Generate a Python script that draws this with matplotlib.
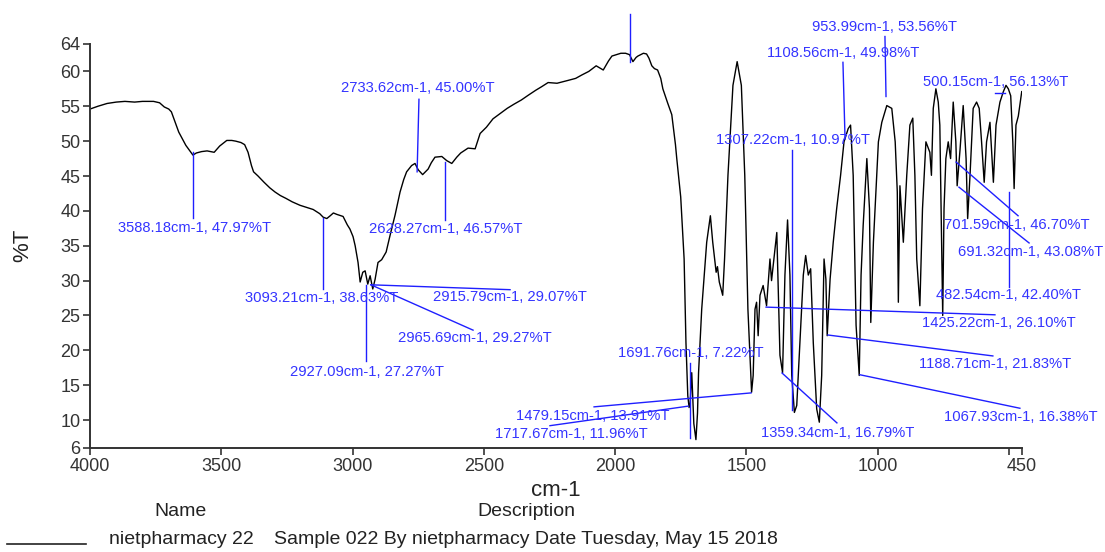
import matplotlib
matplotlib.use("Agg")
import matplotlib.pyplot as plt
from matplotlib.lines import Line2D

# ---------------- data ----------------
wavenumber = [
    4000, 3970, 3935, 3900, 3867, 3830, 3800, 3758, 3735, 3717, 3700, 3690, 3662, 3635,
    3608, 3595, 3575, 3554, 3527, 3506, 3479, 3460, 3445, 3425, 3411, 3398, 3385, 3377,
    3360, 3337, 3315, 3295, 3275, 3254, 3230, 3200, 3175, 3150, 3125, 3112, 3098, 3085,
    3073, 3060, 3036, 3020, 3010, 2998, 2990, 2979, 2971, 2961, 2952, 2942, 2933, 2923,
    2914, 2903, 2889, 2872, 2857, 2838, 2819, 2805, 2794, 2775, 2762, 2750, 2733, 2712,
    2700, 2686, 2660, 2641, 2622, 2603, 2588, 2560, 2533, 2514, 2490, 2465, 2440, 2411,
    2385, 2357, 2330, 2302, 2280, 2255, 2221, 2200, 2180, 2150, 2126, 2100, 2072, 2045,
    2025, 2012, 1995, 1978, 1960, 1945, 1932, 1920, 1913, 1892, 1880, 1871, 1860, 1850,
    1838, 1826, 1818, 1800, 1784, 1770, 1765, 1750, 1744, 1737, 1730, 1723, 1718, 1714,
    1708, 1700, 1692, 1686, 1682, 1670, 1651, 1637, 1628, 1615, 1610, 1605, 1603, 1590,
    1583, 1570, 1551, 1535, 1519, 1506, 1494, 1480, 1474, 1467, 1461, 1455, 1448, 1436,
    1423, 1410, 1404, 1384, 1372, 1362, 1353, 1343, 1334, 1327, 1317, 1308, 1296, 1283,
    1274, 1264, 1255, 1245, 1232, 1222, 1213, 1204, 1197, 1192, 1181, 1169, 1156, 1141,
    1128, 1112, 1103, 1093, 1082, 1070, 1063, 1055, 1041, 1031, 1026, 1016, 997, 984,
    965, 946, 933, 925, 921, 915, 902, 889, 877, 866, 858, 851, 839, 829,
    816, 801, 795, 788, 778, 769, 763, 752, 747, 740, 731, 722, 712, 702,
    697, 686, 674, 663, 657, 648, 636, 623, 613, 604, 594, 585, 572, 559,
    549, 534, 521, 511, 502, 493, 485, 480, 473, 464, 451,
]
transmittance = [
    54.6, 55.0, 55.4, 55.6, 55.7, 55.6, 55.7, 55.7, 55.5, 54.9, 54.6, 54.2, 51.3, 49.4,
    48.0, 48.3, 48.5, 48.6, 48.4, 49.3, 50.1, 50.1, 50.0, 49.8, 49.5, 48.4, 46.5, 45.6,
    45.0, 44.1, 43.3, 42.7, 42.2, 41.8, 41.3, 40.8, 40.5, 40.2, 39.6, 39.1, 38.9, 39.3,
    39.7, 39.5, 39.2, 38.0, 37.4, 36.3, 35.0, 32.6, 29.8, 31.2, 31.4, 29.5, 30.7, 28.8,
    30.2, 32.6, 33.0, 34.1, 36.5, 39.4, 42.7, 44.5, 45.6, 46.5, 46.8, 45.9, 45.2, 46.0,
    46.9, 47.7, 47.8, 47.2, 46.8, 47.7, 48.3, 49.0, 48.9, 51.1, 52.0, 53.2, 53.9, 54.7,
    55.3, 55.9, 56.6, 57.3, 57.8, 58.4, 58.3, 58.5, 58.7, 59.0, 59.5, 60.0, 60.8, 60.2,
    61.5, 62.2, 62.4, 62.6, 62.6, 62.4, 61.4, 62.0, 62.2, 62.6, 62.5, 61.9, 60.8, 60.4,
    60.2, 59.0, 57.5, 55.5, 53.8, 49.5, 47.5, 42.0, 38.0, 33.1, 21.1, 13.5, 11.8, 12.5,
    16.8, 9.5, 7.2, 11.0, 16.8, 25.9, 35.5, 39.3, 35.5, 31.2, 32.0, 30.5, 29.8, 27.9,
    33.1, 45.1, 58.0, 61.4, 58.0, 45.1, 25.9, 14.0, 16.4, 25.9, 26.9, 22.1, 27.9, 29.3,
    26.4, 33.1, 30.0, 36.9, 19.3, 16.8, 30.8, 38.7, 30.8, 16.4, 11.1, 12.1, 21.1, 30.8,
    33.6, 30.8, 31.7, 21.1, 11.6, 9.7, 16.4, 33.1, 30.2, 22.1, 30.2, 35.5, 40.3, 45.1,
    49.9, 51.8, 52.3, 45.1, 23.6, 16.4, 30.8, 37.9, 47.5, 40.3, 24.0, 35.5, 49.9, 52.7,
    55.1, 54.7, 49.9, 42.7, 26.9, 43.6, 35.5, 45.1, 52.3, 53.3, 45.1, 33.1, 26.4, 40.3,
    49.9, 48.4, 45.1, 54.7, 57.5, 55.6, 52.3, 25.0, 40.3, 47.5, 49.9, 47.5, 55.6, 49.9,
    43.6, 48.8, 55.1, 47.5, 38.9, 45.1, 54.7, 55.6, 54.7, 49.9, 44.1, 49.9, 52.7, 44.1,
    52.3, 55.6, 57.1, 58.0, 57.5, 56.5, 49.9, 43.2, 52.3, 53.6, 57.1,
]

x_ticks = [4000, 3500, 3000, 2500, 2000, 1500, 1000, 500, 450]
x_tick_labels = ["4000", "3500", "3000", "2500", "2000", "1500", "1000", "", "450"]
y_ticks = [6, 10, 15, 20, 25, 30, 35, 40, 45, 50, 55, 60, 64]

peak_labels = [
    "3588.18cm-1, 47.97%T", "2733.62cm-1, 45.00%T", "2628.27cm-1, 46.57%T",
    "3093.21cm-1, 38.63%T", "2915.79cm-1, 29.07%T", "2965.69cm-1, 29.27%T",
    "2927.09cm-1, 27.27%T", "1479.15cm-1, 13.91%T", "1717.67cm-1, 11.96%T",
    "1691.76cm-1, 7.22%T", "1307.22cm-1, 10.97%T", "1108.56cm-1, 49.98%T",
    "953.99cm-1, 53.56%T", "500.15cm-1, 56.13%T", "701.59cm-1, 46.70%T",
    "691.32cm-1, 43.08%T", "482.54cm-1, 42.40%T", "1425.22cm-1, 26.10%T",
    "1188.71cm-1, 21.83%T", "1067.93cm-1, 16.38%T", "1359.34cm-1, 16.79%T",
]
# where each leader line touches the spectrum
peak_x = [3608, 2754, 2648, 3112, 2930, 2930, 2949, 1482, 1722, 1715, 1326, 1124,
          968, 515, 701, 690, 500, 1425, 1189, 1067, 1364]
peak_y = [48.4, 45.6, 47.0, 39.0, 29.4, 29.4, 29.4, 13.9, 12.0, 7.4, 11.4, 50.3,
          56.4, 56.9, 47.0, 43.4, 42.7, 26.2, 22.2, 16.5, 16.75]

# ---------------- layout (label placement) ----------------
label_x = [3600, 2751, 2644, 3116, 2400, 2534, 2945, 2084, 2168, 1711, 1322, 1132,
           972, 549, 469, 416, 500, 538, 553, 454, 1151]
label_y = [37.5, 57.6, 37.4, 27.5, 27.65, 21.8, 16.9, 10.6, 8.0, 19.6, 50.2, 62.7,
           66.4, 58.5, 38.0, 34.1, 27.9, 23.9, 18.0, 10.4, 8.15]
leader_end_x = [3608, 2747, 2648, 3112, 2400, 2541, 2949, 2080, 2248, 1715, 1326, 1132,
                972, 553, 465, 423, 500, 553, 561, 458, 1155]
leader_end_y = [39.0, 56.0, 38.7, 28.8, 28.7, 22.9, 18.5, 11.9, 9.2, 18.2, 48.7, 61.3,
                65.0, 56.9, 39.3, 35.4, 29.1, 25.1, 19.2, 11.7, 9.6]
extra_marker_x = 1943
extra_marker_y = (61.3, 68.2)

# ---------------- drawing ----------------
plt.rcParams["font.family"] = ["Liberation Sans", "DejaVu Sans"]
W, H = 1105, 552
fig = plt.figure(figsize=(W / 100, H / 100), dpi=100)
ax = fig.add_axes([90 / W, 104 / H, 932 / W, 404.5 / H])

ax.plot(wavenumber, transmittance, color="black", lw=1.0)

ax.set_xlim(4000, 450)
ax.set_ylim(6, 64)
ax.set_xticks(x_ticks)
ax.set_xticklabels(x_tick_labels)
ax.set_yticks(y_ticks)
for s in ["top", "right"]:
    ax.spines[s].set_visible(False)
for s in ["left", "bottom"]:
    ax.spines[s].set_color("#333333")
    ax.spines[s].set_linewidth(1.4)
ax.tick_params(axis="both", direction="out", length=5, width=1.2, color="#333333",
               labelsize=13, labelcolor="#333333", pad=2)

ax.set_xlabel("cm-1", fontsize=16, color="#222222", labelpad=4)
ax.set_ylabel("%T", fontsize=16, color="#222222", labelpad=19)

blue_line = "#1f1fff"
blue_text = "#3434ff"
for i, txt in enumerate(peak_labels):
    ax.plot([peak_x[i], leader_end_x[i]], [peak_y[i], leader_end_y[i]],
            color=blue_line, lw=1.0, clip_on=False)
    ax.text(label_x[i], label_y[i], txt, color=blue_text, fontsize=10.6,
            ha="center", va="center", clip_on=False)
ax.plot([extra_marker_x, extra_marker_x], list(extra_marker_y), color=blue_line,
        lw=1.0, clip_on=False)

# ---------------- legend block ----------------
def fx(px):
    return px / W

def fy(py):
    return 1 - py / H

fig.text(fx(180), fy(512), "Name", fontsize=14, ha="center", va="center", color="#222222")
fig.text(fx(526), fy(512), "Description", fontsize=14, ha="center", va="center", color="#222222")
fig.add_artist(Line2D([fx(7), fx(86)], [fy(544), fy(544)], color="#222222", lw=1.2))
fig.text(fx(109), fy(540), "nietpharmacy 22", fontsize=14, ha="left", va="center", color="#222222")
fig.text(fx(274), fy(540), "Sample 022 By nietpharmacy Date Tuesday, May 15 2018",
         fontsize=14, ha="left", va="center", color="#222222")

fig.savefig("out.png", dpi=100)
